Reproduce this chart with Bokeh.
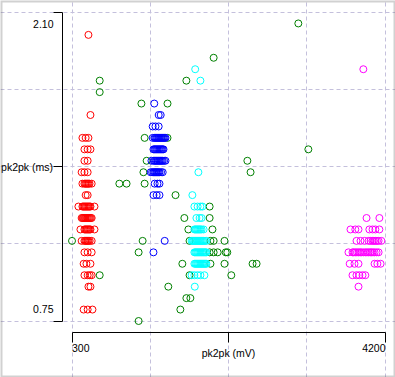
from bokeh.plotting import figure
from bokeh.models import LinearAxis, Grid, FixedTicker, Range1d, Label, BoxAnnotation
from bokeh.embed import file_html
from bokeh.resources import INLINE

# ---------------- data ----------------
red_x = [505, 530, 430, 470, 505, 455, 495, 530, 455, 495, 420, 455, 495,
         430, 455, 468, 480, 493, 505, 518, 545, 470, 495,
         380, 430, 443, 455, 468, 480, 493, 505, 518, 530, 580,
         420, 433, 445, 458, 470, 483, 495, 508, 520, 533, 545,
         405, 455, 468, 480, 493, 505, 518, 530, 580,
         420, 455, 468, 480, 493, 505, 520, 545,
         455, 495, 545, 445, 480, 530,
         455, 495, 520, 545, 505, 530, 445, 495, 555]
red_y = [2.00, 1.65, 1.55, 1.55, 1.55, 1.50, 1.50, 1.50, 1.45, 1.45, 1.40, 1.40, 1.40,
         1.35, 1.35, 1.35, 1.35, 1.35, 1.35, 1.35, 1.35, 1.30, 1.30,
         1.25, 1.25, 1.25, 1.25, 1.25, 1.25, 1.25, 1.25, 1.25, 1.25, 1.25,
         1.20, 1.20, 1.20, 1.20, 1.20, 1.20, 1.20, 1.20, 1.20, 1.20, 1.20,
         1.15, 1.15, 1.15, 1.15, 1.15, 1.15, 1.15, 1.15, 1.15,
         1.10, 1.10, 1.10, 1.10, 1.10, 1.10, 1.10, 1.10,
         1.05, 1.05, 1.05, 1.00, 1.00, 1.00,
         0.95, 0.95, 0.95, 0.95, 0.90, 0.90, 0.80, 0.80, 0.80]

blue_x = [1325, 1380, 1405, 1305, 1340, 1380,
          1305, 1328, 1340, 1353, 1365, 1378, 1390, 1403, 1415, 1428, 1440, 1453, 1465,
          1315, 1328, 1340, 1353, 1365, 1378, 1390, 1403, 1415, 1428, 1440,
          1290, 1318, 1330, 1343, 1355, 1368, 1380, 1393, 1405, 1418, 1430, 1448, 1465,
          1280, 1298, 1315, 1328, 1340, 1353, 1365, 1378, 1390, 1410, 1430,
          1330, 1365, 1390, 1315, 1355, 1390, 1455, 1315]
blue_y = [1.70, 1.65, 1.65, 1.60, 1.60, 1.60,
          1.55, 1.55, 1.55, 1.55, 1.55, 1.55, 1.55, 1.55, 1.55, 1.55, 1.55, 1.55, 1.55,
          1.50, 1.50, 1.50, 1.50, 1.50, 1.50, 1.50, 1.50, 1.50, 1.50, 1.50,
          1.45, 1.45, 1.45, 1.45, 1.45, 1.45, 1.45, 1.45, 1.45, 1.45, 1.45, 1.45, 1.45,
          1.40, 1.40, 1.40, 1.40, 1.40, 1.40, 1.40, 1.40, 1.40, 1.40, 1.40,
          1.35, 1.35, 1.35, 1.30, 1.30, 1.30, 1.10, 1.05]

cyan_x = [1835, 1900, 1875, 1800,
          1825, 1865, 1900, 1925, 1850, 1890, 1915,
          1825, 1838, 1850, 1863, 1875, 1888, 1900, 1915, 1940,
          1790, 1803, 1815, 1828, 1840, 1853, 1865, 1878, 1890, 1903, 1915, 1928,
          1940, 1958, 1975,
          1825, 1838, 1850, 1863, 1875, 1888, 1900, 1913, 1925, 1938, 1950, 1963, 1975,
          1825, 1838, 1850, 1863, 1875, 1888, 1900, 1913, 1925, 1938, 1950, 1963, 1975,
          1790, 1825, 1865, 1900, 1950, 1830]
cyan_y = [1.85, 1.80, 1.40, 1.30,
          1.25, 1.25, 1.25, 1.25, 1.20, 1.20, 1.20,
          1.15, 1.15, 1.15, 1.15, 1.15, 1.15, 1.15, 1.15, 1.15,
          1.10, 1.10, 1.10, 1.10, 1.10, 1.10, 1.10, 1.10, 1.10, 1.10, 1.10, 1.10,
          1.10, 1.10, 1.10,
          1.05, 1.05, 1.05, 1.05, 1.05, 1.05, 1.05, 1.05, 1.05, 1.05, 1.05, 1.05, 1.05,
          1.00, 1.00, 1.00, 1.00, 1.00, 1.00, 1.00, 1.00, 1.00, 1.00, 1.00, 1.00, 1.00,
          0.95, 0.95, 0.95, 0.95, 0.95, 0.90]

magenta_x = [3930, 3970, 4130,
             3770, 3830, 3870, 4005, 4045, 4080, 4130,
             3845, 3895, 3945, 3995, 4020, 4045, 4060, 4080, 4100, 4120, 4155,
             3745, 3795, 3810, 3830, 3850, 3870, 3890, 3905, 3930, 3955, 3975, 3995,
             4015, 4030, 4050, 4070, 4095, 4120,
             3760, 3820, 3870, 4070, 4105, 4145,
             3795, 3845, 3880, 3920, 3955, 3870]
magenta_y = [1.85, 1.20, 1.20,
             1.15, 1.15, 1.15, 1.15, 1.15, 1.15, 1.15,
             1.10, 1.10, 1.10, 1.10, 1.10, 1.10, 1.10, 1.10, 1.10, 1.10, 1.10,
             1.05, 1.05, 1.05, 1.05, 1.05, 1.05, 1.05, 1.05, 1.05, 1.05, 1.05, 1.05,
             1.05, 1.05, 1.05, 1.05, 1.05, 1.05,
             1.00, 1.00, 1.00, 1.00, 1.00, 1.00,
             0.95, 0.95, 0.95, 0.95, 0.95, 0.90]

green_x = [3120, 2065, 645, 1725, 645, 1165, 1490, 1205, 1490, 3245, 1230, 2485,
           1190, 2525, 890, 980, 1205, 1590, 2015, 1700, 2015, 1750, 2050,
           300, 1180, 1765, 2025, 2065, 2200,
           1130, 2015, 2065, 2115, 2215, 2235,
           1675, 2025, 2200, 2550, 2600,
           645, 1765, 2285, 1500, 1725, 1775, 1650, 1130]
green_y = [2.05, 1.90, 1.80, 1.80, 1.75, 1.70, 1.70, 1.55, 1.55, 1.50, 1.45, 1.45,
           1.40, 1.40, 1.35, 1.35, 1.35, 1.30, 1.25, 1.20, 1.20, 1.15, 1.15,
           1.10, 1.10, 1.10, 1.10, 1.10, 1.10,
           1.05, 1.05, 1.05, 1.05, 1.05, 1.05,
           1.00, 1.00, 1.00, 1.00, 1.00,
           0.95, 0.95, 0.95, 0.90, 0.85, 0.85, 0.80, 0.75]

x_grid = [300, 1275, 2250, 3225, 4200]
y_grid = [0.75, 1.0875, 1.425, 1.7625, 2.10]
x_ticks = [300, 2250, 4200]
y_ticks = [0.75, 1.425, 2.10]
x_title = "pk2pk (mV)"
y_title = "pk2pk (ms)"

# ---------------- layout ----------------
W, H = 395, 377
XMIN, XMAX = 300, 4200
YMIN, YMAX = 0.75, 2.10
PX_XMIN, PX_XMAX = 71.5, 384.5
PY_YMAX, PY_YMIN = 11.5, 320.5
SX = (PX_XMAX - PX_XMIN) / (XMAX - XMIN)
SY = (PY_YMIN - PY_YMAX) / (YMAX - YMIN)

x_range = Range1d(XMIN - PX_XMIN / SX, XMIN + (W - PX_XMIN) / SX)
y_range = Range1d(YMIN - (H - PY_YMIN) / SY, YMIN + PY_YMIN / SY)

p = figure(width=W, height=H, x_range=x_range, y_range=y_range,
           x_axis_type=None, y_axis_type=None, toolbar_location=None,
           output_backend="svg", min_border=0)
p.styles = {"position": "absolute", "left": "0px", "top": "0px"}
p.outline_line_color = None
p.background_fill_color = "white"
p.border_fill_color = "white"

FONT = "Liberation Sans"
FS = "10.5px"
GRID_COLOR = "#c4c0dc"

xg = Grid(dimension=0, ticker=FixedTicker(ticks=x_grid), bounds=(YMIN, YMAX),
          grid_line_color=GRID_COLOR, grid_line_dash="4 3", grid_line_width=1)
yg = Grid(dimension=1, ticker=FixedTicker(ticks=y_grid), bounds=(XMIN, XMAX),
          grid_line_color=GRID_COLOR, grid_line_dash="4 3", grid_line_width=1)
p.add_layout(xg)
p.add_layout(yg)

AXIS_X = XMIN - 10 / SX
AXIS_Y = YMIN - 11 / SY

yaxis = LinearAxis(fixed_location=AXIS_X, bounds=(YMIN, YMAX),
                   ticker=FixedTicker(ticks=y_ticks),
                   major_label_overrides={y_ticks[0]: "", y_ticks[1]: y_title, y_ticks[2]: ""},
                   major_tick_in=0, major_tick_out=9, minor_tick_out=0, minor_tick_in=0,
                   major_label_standoff=0,
                   axis_line_color="black", major_tick_line_color="black",
                   major_label_text_font=FONT, major_label_text_font_size=FS,
                   major_label_text_color="black")
xaxis = LinearAxis(fixed_location=AXIS_Y, bounds=(XMIN, XMAX),
                   ticker=FixedTicker(ticks=x_ticks),
                   major_label_overrides={x_ticks[0]: "", x_ticks[1]: x_title, x_ticks[2]: ""},
                   major_tick_in=0, major_tick_out=10, minor_tick_out=0, minor_tick_in=0,
                   major_label_standoff=5,
                   axis_line_color="black", major_tick_line_color="black",
                   major_label_text_font=FONT, major_label_text_font_size=FS,
                   major_label_text_color="black")
p.add_layout(yaxis, "left")
p.add_layout(xaxis, "below")

def lab(x, y, text, dx, dy, align):
    p.add_layout(Label(x=x, y=y, text=text, x_offset=dx, y_offset=dy,
                       text_align=align, text_baseline="middle",
                       text_font=FONT, text_font_size=FS, text_color="black"))

lab(AXIS_X, YMAX, "2.10", -8.5, -11.5, "right")
lab(AXIS_X, YMIN, "0.75", -8.5, 11.8, "right")
lab(XMIN, AXIS_Y, "300", 0, -16.2, "left")
lab(XMAX, AXIS_Y, "4200", 0.5, -16.2, "right")

def pts(xs, ys, color):
    p.scatter(xs, ys, marker="circle", size=7, fill_color=None,
              line_color=color, line_width=1)

pts(red_x, red_y, "#ff0000")
pts(green_x, green_y, "#008000")
pts(blue_x, blue_y, "#0000ff")
pts(cyan_x, cyan_y, "#00ffff")
pts(magenta_x, magenta_y, "#ff00ff")

p.add_layout(BoxAnnotation(fill_color=None, line_color="#666666", line_width=4))

open("out.html", "w").write(file_html(p, INLINE))
